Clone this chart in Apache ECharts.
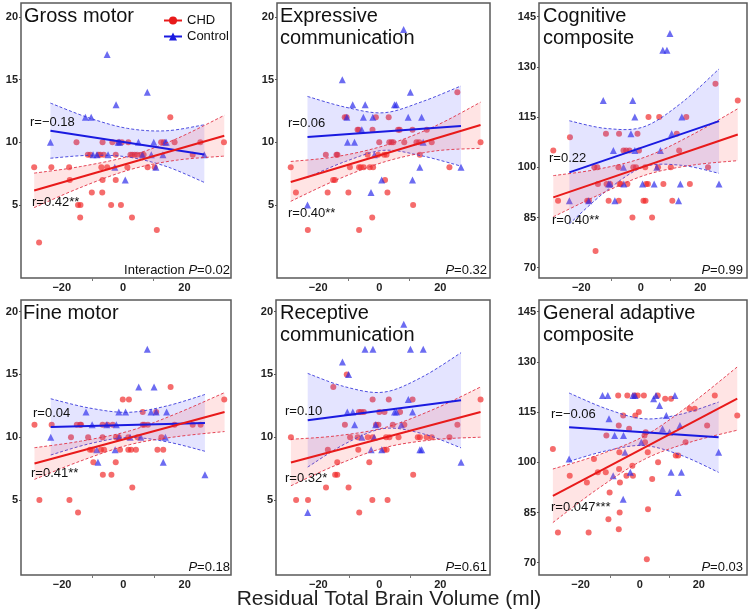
<!DOCTYPE html>
<html><head><meta charset="utf-8">
<script src="https://cdn.jsdelivr.net/npm/echarts@6/dist/echarts.min.js"></script>
<style>html,body{margin:0;padding:0;background:#fff}#c{width:750px;height:615px}</style>
</head><body><div id="c"></div>
<script>
// ---------------- DATA ----------------
const xTickValues = [-20, 0, 20];
const xTickMarks = [-10, 10];
const scoreTicks = [5, 10, 15, 20];
const compositeTicks = [70, 85, 100, 115, 130, 145];
const panelTitles = [['Gross motor'], ['Expressive', 'communication'], ['Cognitive', 'composite'],
  ['Fine motor'], ['Receptive', 'communication'], ['General adaptive', 'composite']];
const rChd = ['r=0.42**', 'r=0.40**', 'r=0.40**', 'r=0.41**', 'r=0.32*', 'r=0.047***'];
const rCtl = ['r=\u22120.18', 'r=0.06', 'r=0.22', 'r=0.04', 'r=0.10', 'r=\u22120.06'];
const pLabels = ['0.02', '0.32', '0.99', '0.18', '0.61', '0.03'];
const xTitle = 'Residual Total Brain Volume (ml)';
const legendNames = ['CHD', 'Control'];

// Gross motor
const grossChd = [[-29,8],[-27.4,2],[-23.4,8],[-17.6,8],[-17.4,7],[-15.2,10],[-14.7,5],[-13.9,5],[-14,4],[-11.5,9],[-10.7,9],[-10.2,6],[-8,9],[-7.4,9],[-6.8,6],[-7.1,8],[-6.7,7],[-6.7,10],[-6.3,9],[-5.2,8],[-3.9,5],[-3.5,10],[-2.4,9],[-2.4,7],[-1.5,10],[-0.4,10],[-0.7,5],[1.4,8],[1.7,10],[2.4,9],[3,9],[2.9,4],[3.8,9],[4.6,9],[6,9],[6.7,9],[8,8],[10.3,8],[11,3],[12.4,10],[13.3,10],[15.4,12],[16.8,10],[22.7,9],[25.2,10],[32.9,10]];
const grossCtl = [[-23.7,10],[-12.3,12],[-10.4,12],[-9.8,9],[-8.5,9],[-5.2,17],[-4.9,9],[-2.3,13],[-2.7,8],[-1.6,10],[-1.1,10],[0.7,7],[5,10],[6.3,9],[7.9,14],[9.2,9],[10,10],[10.7,8],[13,9],[13.7,10],[14.1,10],[26.5,9]];
const grossFitChd = [[-29,6.16],[33,10.53]];
const grossFitCtl = [[-23.7,10.93],[26.5,9.02]];
const grossBandChdX = [-29,-14,2,17,33], grossBandChdLo = [4.79,6.38,7.8,8.56,8.9], grossBandChdHi = [7.54,8.06,8.9,10.24,12.15];
const grossBandCtlX = [-23.7,-11,1.5,14,26.5], grossBandCtlLo = [8.73,8.96,8.83,8.08,6.8], grossBandCtlHi = [13.13,11.94,11.11,10.92,11.4];

// Expressive communication
const expChd = [[-29,8],[-27.3,6],[-23.4,3],[-17.5,9],[-16.9,6],[-15.1,7],[-14.5,7],[-14,9],[-13.7,9],[-11.3,12],[-10.7,12],[-9.6,8],[-10.1,6],[-7.1,11],[-6.7,11],[-6.6,8],[-6.6,3],[-6,8],[-5.1,8],[-3.8,9],[-3.1,8],[-2.2,11],[-2,8],[-2.3,4],[-1.1,12],[-0.4,9],[0,10],[1.6,9],[1.9,7],[2.4,9],[2.7,6],[3.1,12],[3.3,10],[4,10],[4.6,10],[6.2,11],[6.7,11],[8.2,10],[10.9,11],[11.1,5],[12.2,10],[13.1,10],[13.3,9],[15.6,11],[17.2,10],[23,8],[25.6,14],[33.2,10]];
const expCtl = [[-23.5,5],[-12.1,15],[-10.6,12],[-10.4,10],[-8.7,13],[-8.1,10],[-5.2,12],[-4.6,13],[-5.7,11],[-2.7,6],[-2.1,12],[-1.6,9],[0.8,7],[5,13],[5.6,13],[8,19],[9.5,12],[10.2,14],[10.9,7],[13.3,8],[13.9,12],[14.4,10],[26.8,8]];
const expFitChd = [[-29,6.83],[33.2,11.38]];
const expFitCtl = [[-23.5,10.42],[26.8,11.3]];
const expBandChdX = [-29,-14,2,18,33.2], expBandChdLo = [5.29,7.0,8.46,9.3,9.52], expBandChdHi = [8.47,8.86,9.76,11.26,13.2];
const expBandCtlX = [-23.5,-11,1.5,14,26.8], expBandCtlLo = [7.2,8.48,9.36,8.92,8.1], expBandCtlHi = [13.66,12.8,12.36,13.24,14.5];

// Cognitive composite
const cogChd = [[-29.4,105],[-27.8,90],[-23.8,109],[-18,90],[-17.4,90],[-15.2,75],[-15.6,100],[-14.6,100],[-14.4,95],[-11.7,110],[-11.5,95],[-10.8,90],[-10.3,95],[-7.3,110],[-7.5,100],[-7.4,90],[-7.1,95],[-6.7,95],[-5.8,105],[-4.9,105],[-4.5,95],[-3.8,105],[-2.8,85],[-2.5,100],[-1.6,100],[-1.1,110],[-0.6,105],[0.9,90],[1.5,100],[1.6,90],[1.8,95],[2.4,95],[2.6,115],[3.8,85],[5.8,100],[6.2,115],[7.6,95],[10.1,100],[10.6,90],[12.1,110],[12.9,105],[15.3,115],[16.5,95],[22.6,100],[25.1,125],[32.6,120]];
const cogCtl = [[-24,90],[-17.5,90],[-12.6,120],[-10.8,95],[-10.3,95],[-9.2,105],[-8.7,90],[-5.7,95],[-5.8,100],[-3.3,110],[-2.7,120],[-2,115],[-2,105],[0.6,95],[4.5,95],[5.4,100],[6.6,105],[7.4,135],[8.8,135],[9.8,140],[10.4,110],[12.7,90],[13.3,95],[13.8,115],[26.3,95]];
const cogFitChd = [[-29.4,91.0],[32.6,109.8]];
const cogFitCtl = [[-24,98.5],[26.3,113.8]];
const cogBandChdX = [-29.4,-14,1.6,17,32.6], cogBandChdLo = [85.2,91.8,97.7,100.6,102.0], cogBandChdHi = [97.5,99.5,103.1,109.6,117.5];
const cogBandCtlX = [-24,-11.5,1,13.6,26.3], cogBandCtlLo = [83.1,93.0,100.1,100.6,98.2], cogBandCtlHi = [113.9,111.6,112.1,119.2,129.4];

// Fine motor
const fineChd = [[-29,11],[-27.4,5],[-23.4,11],[-17.6,5],[-17.1,10],[-14.8,4],[-15.2,11],[-14.1,11],[-13.8,11],[-11.5,10],[-10.9,9],[-10.2,9],[-9.8,8],[-7.3,9],[-6.7,7],[-6.8,11],[-6.8,10],[-6.3,9],[-5.2,11],[-3.9,7],[-3.5,11],[-2.5,8],[-2.4,10],[-1.5,10],[-1.1,9],[-0.2,13],[1.6,10],[1.8,13],[1.6,9],[2.5,9],[2.9,6],[4.1,9],[4.6,10],[6.3,12],[6.3,11],[6.8,11],[8,11],[10.7,12],[11.1,9],[12.4,10],[13,9],[15.4,14],[16.7,11],[22.6,11],[25.2,11],[32.9,13]];
const fineCtl = [[-23.7,10],[-12.2,12],[-10.2,11],[-8.7,9],[-8.3,8],[-5.4,11],[-2.7,9],[-2.3,11],[-1.5,12],[-1.4,10],[0.7,12],[2.2,10],[5,14],[5.7,10],[7.8,17],[9,12],[10,14],[10.7,12],[13,8],[14.1,12],[13.7,10],[26.6,7]];
const fineFitChd = [[-29,7.9],[33,12.0]];
const fineFitCtl = [[-23.7,10.82],[26.6,11.14]];
const fineBandChdX = [-29,-14,2,17,33], fineBandChdLo = [6.64,8.1,9.4,10.03,10.45], fineBandChdHi = [9.16,9.68,10.5,11.85,13.55];
const fineBandCtlX = [-23.7,-11,1.5,14,26.6], fineBandCtlLo = [8.58,9.48,9.98,9.64,8.88], fineBandCtlHi = [13.06,12.32,11.98,12.48,13.4];

// Receptive communication
const recChd = [[-29,10],[-27.3,5],[-23.4,5],[-17.5,6],[-16.9,9],[-15.1,14],[-14.5,7],[-13.8,7],[-13.8,8],[-11.3,11],[-10.7,15],[-10.1,6],[-9.6,10],[-7.1,10],[-6.9,9],[-6.7,12],[-6.6,4],[-6,12],[-5.1,12],[-3.8,10],[-3.3,8],[-2.3,5],[-2.2,13],[-2.2,10],[-1.1,11],[-0.3,11],[0,12],[1.7,12],[1.6,9],[2.2,10],[2.4,9],[2.7,5],[3.1,13],[3.3,10],[4.4,11],[6.3,10],[6.8,12],[8.2,11],[10.9,13],[11.1,7],[12.6,10],[13.3,10],[15.5,10],[17.2,10],[23,10],[25.6,11],[33.2,13]];
const recCtl = [[-23.5,4],[-12.1,16],[-10.1,15],[-10.5,12],[-8.7,12],[-8.1,11],[-5.7,10],[-4.7,17],[-2.7,9],[-2.1,17],[-1.7,10],[-1.2,11],[0.8,9],[5,12],[5.6,12],[7.2,11],[8,19],[9.5,13],[10.2,17],[10.9,12],[13.3,9],[13.9,9],[14.4,17],[26.8,8]];
const recFitChd = [[-29,7.98],[33.2,12.0]];
const recFitCtl = [[-23.5,11.35],[26.8,12.94]];
const recBandChdX = [-29,-14,2,18,33.2], recBandChdLo = [6.13,7.79,9.18,9.8,10.0], recBandChdHi = [9.83,10.11,10.78,12.24,14.0];
const recBandCtlX = [-23.5,-11,1.5,14,26.8], recBandCtlLo = [7.62,9.5,10.69,10.29,9.15], recBandCtlHi = [15.08,14.0,13.59,14.79,16.73];

// General adaptive composite
const adaChd = [[-29.4,104],[-27.7,79],[-23.7,96],[-17.9,94],[-17.3,79],[-15.5,101],[-14.2,97],[-11.5,97],[-11.3,108],[-10.6,83],[-10.2,91],[-7.3,120],[-7.1,80],[-7.1,111],[-7,98],[-6.9,103],[-6.7,94],[-6.8,85],[-5.6,114],[-4.5,96],[-4.2,120],[-3.6,110],[-2.5,99],[-2.3,96],[-1.8,120],[-1.5,114],[-0.7,120],[-0.3,115],[1.4,120],[1.6,108],[1.8,106],[2,109],[2.4,71],[2.7,103],[2.8,86],[4.2,95],[6.1,120],[6.2,100],[8.6,119],[10.6,119],[12.2,102],[13,102],[15.5,106],[16.8,116],[18.6,116],[22.8,111],[25.4,120],[33,114]];
const adaCtl = [[-23.9,101],[-12.6,120],[-10.8,120],[-10.4,113],[-8.5,108],[-9,96],[-5.5,108],[-5.6,89],[-5,103],[-3.2,97],[-2.3,120],[-1.6,120],[0.5,106],[4.7,119],[5.5,120],[6.7,117],[7.7,110],[9,114],[10.1,109],[10.6,97],[11.9,120],[13,91],[13.6,111],[14.1,97],[26.7,103]];
const adaFitChd = [[-29.4,90.0],[33,119.0]];
const adaFitCtl = [[-23.9,110.5],[26.7,107.5]];
const adaBandChdX = [-29.4,-14,1.6,17,33], adaBandChdLo = [82,92.2,100.9,106,109.6], adaBandChdHi = [98,102.2,107.9,117.2,128.5];
const adaBandCtlX = [-23.9,-11,1.5,14,26.7], adaBandCtlLo = [100.3,103.5,105.0,102.1,97.0], adaBandCtlHi = [120.7,115.9,113.0,114.4,118.0];

// ---------------- ASSEMBLY ----------------
const panels = [
  {chd: grossChd, ctl: grossCtl, fitChd: grossFitChd, fitCtl: grossFitCtl, bChd: [grossBandChdX, grossBandChdLo, grossBandChdHi], bCtl: [grossBandCtlX, grossBandCtlLo, grossBandCtlHi], yt: scoreTicks},
  {chd: expChd, ctl: expCtl, fitChd: expFitChd, fitCtl: expFitCtl, bChd: [expBandChdX, expBandChdLo, expBandChdHi], bCtl: [expBandCtlX, expBandCtlLo, expBandCtlHi], yt: scoreTicks},
  {chd: cogChd, ctl: cogCtl, fitChd: cogFitChd, fitCtl: cogFitCtl, bChd: [cogBandChdX, cogBandChdLo, cogBandChdHi], bCtl: [cogBandCtlX, cogBandCtlLo, cogBandCtlHi], yt: compositeTicks},
  {chd: fineChd, ctl: fineCtl, fitChd: fineFitChd, fitCtl: fineFitCtl, bChd: [fineBandChdX, fineBandChdLo, fineBandChdHi], bCtl: [fineBandCtlX, fineBandCtlLo, fineBandCtlHi], yt: scoreTicks},
  {chd: recChd, ctl: recCtl, fitChd: recFitChd, fitCtl: recFitCtl, bChd: [recBandChdX, recBandChdLo, recBandChdHi], bCtl: [recBandCtlX, recBandCtlLo, recBandCtlHi], yt: scoreTicks},
  {chd: adaChd, ctl: adaCtl, fitChd: adaFitChd, fitCtl: adaFitCtl, bChd: [adaBandChdX, adaBandChdLo, adaBandChdHi], bCtl: [adaBandCtlX, adaBandCtlLo, adaBandCtlHi], yt: compositeTicks}
];

const layouts = [
  {left: 21, top: 3, width: 210, height: 275, x: [-33.3, 35.2], y: [-0.83, 21.12]},
  {left: 277, top: 3, width: 213, height: 275, x: [-33.5, 36.3], y: [-0.83, 21.12]},
  {left: 539, top: 3, width: 208, height: 275, x: [-34.2, 35.7], y: [66.92, 149.1]},
  {left: 21, top: 300, width: 210, height: 275, x: [-33.4, 35.1], y: [-0.98, 20.93]},
  {left: 276, top: 300, width: 214, height: 275, x: [-33.9, 36.3], y: [-0.98, 20.93]},
  {left: 539, top: 300, width: 208, height: 275, x: [-34.1, 36.3], y: [66.33, 148.5]}
];

const FONT = '"Liberation Sans", Arial, Helvetica, sans-serif';
const RED = '#E81A1A', BLUE = '#1A1AE0';
const RED_PT = 'rgba(240,40,40,0.85)', BLUE_PT = 'rgba(40,40,235,0.85)';
const RED_FILL = 'rgba(255,90,90,0.16)', BLUE_FILL = 'rgba(90,90,255,0.16)';
const RED_DASH = 'rgba(225,50,70,0.9)', BLUE_DASH = 'rgba(60,60,220,0.9)';

const grid = [], xAxis = [], yAxis = [], series = [], graphic = [];
const minus = v => (v < 0 ? '\u2212' + (-v) : '' + v);

// smooth cubic path through pixel points (rendering helper only)
function curveSegs(pts) {
  let d = '';
  for (let i = 0; i < pts.length - 1; i++) {
    const p0 = pts[i - 1] || pts[i], p1 = pts[i], p2 = pts[i + 1], p3 = pts[i + 2] || pts[i + 1];
    const c1 = [p1[0] + (p2[0] - p0[0]) / 6, p1[1] + (p2[1] - p0[1]) / 6];
    const c2 = [p2[0] - (p3[0] - p1[0]) / 6, p2[1] - (p3[1] - p1[1]) / 6];
    d += ' C' + c1[0] + ' ' + c1[1] + ' ' + c2[0] + ' ' + c2[1] + ' ' + p2[0] + ' ' + p2[1];
  }
  return d;
}

function bandSeries(i, band, fill, dash) {
  const [bx, lo, hi] = band;
  series.push({
    type: 'custom', xAxisIndex: i, yAxisIndex: i, silent: true, z: 3, clip: false,
    encode: {x: 0, y: [1, 2]},
    data: bx.map((x, k) => [x, lo[k], hi[k]]),
    renderItem: (params, api) => {
      if (params.dataIndex !== 0) return null;
      const lower = bx.map((x, k) => api.coord([x, lo[k]]));
      const upper = bx.map((x, k) => api.coord([x, hi[k]]));
      const upRev = upper.slice().reverse();
      const lowerD = 'M' + lower[0][0] + ' ' + lower[0][1] + curveSegs(lower);
      const upperD = 'M' + upper[0][0] + ' ' + upper[0][1] + curveSegs(upper);
      const fillD = lowerD + ' L' + upRev[0][0] + ' ' + upRev[0][1] + curveSegs(upRev) + ' Z';
      return {type: 'group', children: [
        {type: 'path', shape: {pathData: fillD}, style: {fill: fill, stroke: null}},
        {type: 'path', shape: {pathData: lowerD}, style: {fill: null, stroke: dash, lineWidth: 1, lineDash: [3, 2]}},
        {type: 'path', shape: {pathData: upperD}, style: {fill: null, stroke: dash, lineWidth: 1, lineDash: [3, 2]}}
      ]};
    }
  });
}

panels.forEach((p, i) => {
  const L = layouts[i];
  grid.push({left: L.left, top: L.top, width: L.width, height: L.height, show: true,
    borderColor: '#5a5a5a', borderWidth: 1.5, backgroundColor: '#fff', containLabel: false});
  xAxis.push({type: 'value', gridIndex: i, min: L.x[0], max: L.x[1], position: 'bottom',
    splitLine: {show: false}, axisLine: {show: false, onZero: false},
    axisTick: {show: true, length: 3, customValues: xTickMarks, lineStyle: {color: '#777'}},
    axisLabel: {customValues: xTickValues, fontSize: 11, fontWeight: 'bold', color: '#222', margin: 4, fontFamily: FONT, formatter: minus}});
  yAxis.push({type: 'value', gridIndex: i, min: L.y[0], max: L.y[1], position: 'left',
    splitLine: {show: false}, axisLine: {show: false, onZero: false},
    axisTick: {show: true, length: 2, customValues: p.yt, lineStyle: {color: '#555'}},
    axisLabel: {customValues: p.yt, fontSize: 11, fontWeight: 'bold', color: '#222', margin: 3, fontFamily: FONT}});

  series.push({type: 'scatter', name: 'CHD pts', xAxisIndex: i, yAxisIndex: i, symbol: 'circle', symbolSize: 6,
    itemStyle: {color: RED_PT}, z: 2, silent: true, data: p.chd});
  series.push({type: 'scatter', name: 'Control pts', xAxisIndex: i, yAxisIndex: i, symbol: 'triangle', symbolSize: 7,
    itemStyle: {color: BLUE_PT}, z: 2, silent: true, data: p.ctl});
  bandSeries(i, p.bCtl, BLUE_FILL, BLUE_DASH);
  bandSeries(i, p.bChd, RED_FILL, RED_DASH);
  series.push({type: 'line', name: legendNames[1], xAxisIndex: i, yAxisIndex: i, symbol: 'triangle', showSymbol: false,
    symbolSize: 7, itemStyle: {color: BLUE}, lineStyle: {color: BLUE, width: 2}, z: 5, silent: true, data: p.fitCtl});
  series.push({type: 'line', name: legendNames[0], xAxisIndex: i, yAxisIndex: i, symbol: 'circle', showSymbol: false,
    symbolSize: 7, itemStyle: {color: RED}, lineStyle: {color: RED, width: 2}, z: 5, silent: true, data: p.fitChd});
});

// Text annotations
function txt(text, x, y, size, align, extra) {
  graphic.push({type: 'text', x, y, z: 100, silent: true,
    style: Object.assign({text, fontSize: size, fontFamily: FONT, fill: '#111', align: align || 'left', verticalAlign: 'middle'}, extra || {})});
}
const titlePos = [[24, 16], [280, 16], [543, 16], [23, 313], [280, 313], [543, 313]];
panelTitles.forEach((lines, i) => lines.forEach((t, k) => txt(t, titlePos[i][0], titlePos[i][1] + k * 22, 20)));
const rCtlPos = [[30, 122], [288, 123], [549, 158], [33, 413], [285, 411], [551, 414]];
const rChdPos = [[32, 202], [288, 213], [552, 220], [31, 473], [285, 478], [551, 507]];
rCtl.forEach((t, i) => txt(t, rCtlPos[i][0], rCtlPos[i][1], 13));
rChd.forEach((t, i) => txt(t, rChdPos[i][0], rChdPos[i][1], 13));
const pPos = [[230, 270], [487, 270], [743, 270], [230, 567], [487, 567], [743, 567]];
pLabels.forEach((v, i) => {
  const pre = i === 0 ? '{n|Interaction }' : '';
  txt(pre + '{i|P}{n|=' + v + '}', pPos[i][0], pPos[i][1], 13, 'right', {
    rich: {n: {fontSize: 13, fontFamily: FONT, fill: '#111'}, i: {fontSize: 13, fontFamily: FONT, fontStyle: 'italic', fill: '#111'}}
  });
});
txt(xTitle, 389, 599, 21, 'center', {fill: '#222'});

const chart = echarts.init(document.getElementById('c'), null, {renderer: 'canvas'});
chart.setOption({
  animation: false,
  backgroundColor: '#fff',
  grid, xAxis, yAxis, series, graphic,
  legend: {data: legendNames, left: 158, top: 9, orient: 'vertical', itemWidth: 18, itemHeight: 10, itemGap: 3,
    selectedMode: false, textStyle: {fontSize: 13, fontFamily: FONT, color: '#111'}}
});
</script></body></html>
